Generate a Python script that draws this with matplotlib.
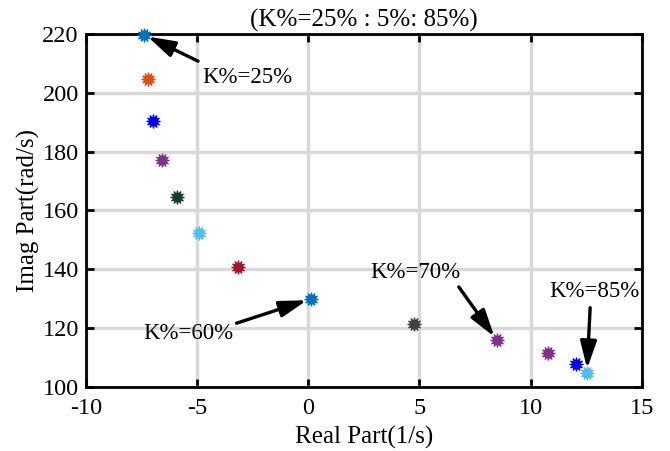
import matplotlib.pyplot as plt
import numpy as np

# K% = 25 : 5 : 85
k_pct = [25, 30, 35, 40, 45, 50, 55, 60, 65, 70, 75, 80, 85]
real_part = [-7.39, -7.21, -6.99, -6.58, -5.91, -4.92, -3.17, 0.12, 4.75, 8.48, 10.77, 12.03, 12.53]
imag_part = [219.7, 204.6, 190.4, 177.1, 164.6, 152.4, 140.7, 129.9, 121.5, 115.9, 111.5, 107.9, 104.8]
colors = ['#0072BD', '#D95319', '#0000FF', '#7E2F8E', '#173B28', '#4DBEEE', '#A2142F',
          '#0072BD', '#404040', '#7E2F8E', '#7E2F8E', '#0000FF', '#4DBEEE']

plt.rcParams['font.family'] = ['Liberation Serif', 'DejaVu Serif']

fig = plt.figure(figsize=(6.7, 4.51), dpi=100)
ax = fig.add_subplot(111)
fig.subplots_adjust(left=0.128, right=0.958, top=0.925, bottom=0.142)

for x, y, c in zip(real_part, imag_part, colors):
    ax.plot(x, y, marker=(12, 1, 0), color=c, markersize=10, markeredgewidth=0.8,
            linestyle='none', clip_on=False, zorder=5)

ax.set_xlim(-10, 15)
ax.set_ylim(100, 220)
ax.set_xticks([-10, -5, 0, 5, 10, 15])
ax.set_xticklabels(['-10', '-5', '0', '5', '10', '15'])
ax.set_yticks([100, 120, 140, 160, 180, 200, 220])
ax.grid(True, color='#d9d9d9', linewidth=2.5)
ax.set_axisbelow(True)
for s in ax.spines.values():
    s.set_linewidth(2)
ax.tick_params(direction='in', length=6, width=2, top=True, right=True, labelsize=17.5, pad=5)
ax.tick_params(axis='x', pad=8)

ax.set_xlabel('Real Part(1/s)', fontsize=18, labelpad=5)
ax.set_ylabel('Imag Part(rad/s)', fontsize=18, labelpad=2)
ax.set_title('(K%=25% : 5%: 85%)', fontsize=18, pad=5)

arrow = dict(arrowstyle='-|>,head_length=1.0,head_width=0.3', color='black', lw=2.4,
             shrinkA=0, shrinkB=3)
ax.annotate('K%=25%', xy=(real_part[0], imag_part[0]), xytext=(-4.75, 205.0),
            fontsize=16.5, va='center', ha='left', arrowprops=dict(arrow, relpos=(-0.05, 1.3)))
ax.annotate('K%=60%', xy=(real_part[7], imag_part[7]), xytext=(-7.4, 118.3),
            fontsize=16.5, va='center', ha='left', arrowprops=dict(arrow, relpos=(0.98, 0.9)))
ax.annotate('K%=70%', xy=(real_part[9], imag_part[9]), xytext=(2.8, 139.0),
            fontsize=16.5, va='center', ha='left', arrowprops=dict(arrow, relpos=(0.98, -0.2)))
ax.annotate('K%=85%', xy=(real_part[12], imag_part[12]), xytext=(10.85, 132.3),
            fontsize=16.5, va='center', ha='left', arrowprops=dict(arrow, relpos=(0.45, -0.25)))

fig.savefig('out.png', dpi=100)
